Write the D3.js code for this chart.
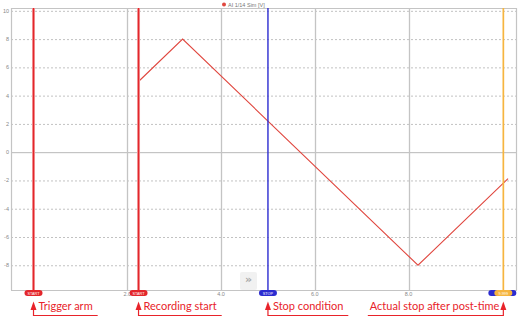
<!DOCTYPE html>
<html>
<head>
<meta charset="utf-8">
<script src="https://cdn.jsdelivr.net/npm/d3@7"></script>
<style>
  body { margin: 0; background: #fff; }
  svg { display: block; }
</style>
</head>
<body>
<div id="root"></div>
<script>
const width = 524;
const height = 325;

// signal AI 1/14 Sim [V]
const sigTime = [2.24, 3.18, 8.2, 10.12];
const sigValue = [5, 8, -8, -1.87];

// marker lines
const markerNames = ['START', 'START', 'STOP', '9.999'];
const markerTime = [0, 2.24, 5.0, 10.02];
const markerColor = ['#e3262b', '#e3262b', '#2b2bd0', '#f6b53f'];

// annotations under the chart
const noteText = ['Trigger arm', 'Recording start', 'Stop condition', 'Actual stop after post-time'];
const noteSide = ['right', 'right', 'right', 'left'];

const yTicks = [-8, -6, -4, -2, 0, 2, 4, 6, 8, 10];
const xTicks = [2, 4, 6, 8];

const plot = {left: 11, right: 516, top: 8, bottom: 290};

const svg = d3.select('#root')
  .append('svg')
  .attr('width', width).attr('height', height);

const xScale = d3.scaleLinear()
  .domain([-0.48, 10.29])
  .range([plot.left, plot.right]);

const yScale = d3.scaleLinear()
  .domain([-9.75, 10.2])
  .range([plot.bottom, plot.top]);

// horizontal grid
svg.append('g')
  .selectAll('line')
  .data(yTicks).enter()
  .append('line')
  .attr('x1', plot.left).attr('x2', plot.right)
  .attr('y1', d => yScale(d) + 0.5).attr('y2', d => yScale(d) + 0.5)
  .attr('stroke', d => d === 0 ? '#b8b8b8' : '#c2c2c2')
  .attr('stroke-width', 1)
  .attr('stroke-dasharray', d => d === 0 ? null : '2,2');

// vertical grid
svg.append('g')
  .selectAll('line')
  .data(xTicks).enter()
  .append('line')
  .attr('x1', d => Math.round(xScale(d)) + 0.5).attr('x2', d => Math.round(xScale(d)) + 0.5)
  .attr('y1', plot.top).attr('y2', plot.bottom)
  .attr('stroke', '#c4c4c4')
  .attr('stroke-width', 1.3);

// frame
svg.append('path')
  .attr('d', `M${plot.left + 0.5},${plot.bottom}V${plot.top + 0.5}H${plot.right + 0.5}V${plot.bottom}`)
  .attr('fill', 'none')
  .attr('stroke', '#c4c4c4')
  .attr('stroke-width', 1.2);
svg.append('line')
  .attr('x1', plot.left).attr('x2', plot.right + 1)
  .attr('y1', plot.bottom + 0.5).attr('y2', plot.bottom + 0.5)
  .attr('stroke', '#c4c4c4');

// y axis labels
svg.append('g')
  .selectAll('text')
  .data(yTicks).enter()
  .append('text')
  .attr('x', 9)
  .attr('y', d => yScale(d) + 2)
  .attr('text-anchor', 'end')
  .attr('font-family', 'Liberation Sans, sans-serif')
  .attr('font-size', 5.5)
  .attr('fill', '#888')
  .text(d => d);

// x axis labels
svg.append('g')
  .selectAll('text')
  .data(xTicks).enter()
  .append('text')
  .attr('x', d => xScale(d))
  .attr('y', 296)
  .attr('text-anchor', 'middle')
  .attr('font-family', 'Liberation Sans, sans-serif')
  .attr('font-size', 5.5)
  .attr('fill', '#888')
  .text(d => d.toFixed(1));

// ">>" button
const btn = svg.append('g');
btn.append('rect')
  .attr('x', 240).attr('y', 272).attr('width', 17).attr('height', 18)
  .attr('rx', 2)
  .attr('fill', '#f1f1f1');
btn.append('text')
  .attr('x', 248.5).attr('y', 283)
  .attr('text-anchor', 'middle')
  .attr('font-family', 'DejaVu Sans, sans-serif')
  .attr('font-size', 11)
  .attr('font-weight', 'bold')
  .attr('fill', '#a8a8a8')
  .text('\u00bb');

// signal
const line = d3.line()
  .x((d, i) => xScale(sigTime[i]))
  .y(d => yScale(d));
svg.append('path')
  .datum(sigValue)
  .attr('d', line)
  .attr('fill', 'none')
  .attr('stroke', '#e0473f')
  .attr('stroke-width', 1.1);

// blue pill behind the orange one at the end
svg.append('rect')
  .attr('x', xScale(markerTime[3]) - 15).attr('y', 290)
  .attr('width', 28).attr('height', 6).attr('rx', 3)
  .attr('fill', '#2b2bd0');

// marker lines
const markers = svg.append('g')
  .selectAll('g')
  .data(markerTime).enter()
  .append('g');

markers.append('line')
  .attr('x1', d => xScale(d)).attr('x2', d => xScale(d))
  .attr('y1', plot.top).attr('y2', plot.bottom)
  .attr('stroke', (d, i) => i < 2 ? '#f7c0c0' : 'none')
  .attr('stroke-width', 3);
markers.append('line')
  .attr('x1', d => xScale(d)).attr('x2', d => xScale(d))
  .attr('y1', plot.top).attr('y2', plot.bottom)
  .attr('stroke', (d, i) => markerColor[i])
  .attr('stroke-width', (d, i) => i === 2 ? 1.4 : 1.7);

markers.append('rect')
  .attr('x', (d, i) => xScale(d) - 9).attr('y', 290)
  .attr('width', 18).attr('height', 6).attr('rx', 3)
  .attr('fill', (d, i) => markerColor[i]);
markers.append('text')
  .attr('x', d => xScale(d))
  .attr('y', 294.6)
  .attr('text-anchor', 'middle')
  .attr('font-family', 'Liberation Sans, sans-serif')
  .attr('font-size', 3.8)
  .attr('fill', '#fff')
  .text((d, i) => markerNames[i]);

// legend
svg.append('circle')
  .attr('cx', 224).attr('cy', 4.5).attr('r', 2)
  .attr('fill', '#e0473f');
svg.append('text')
  .attr('x', 228).attr('y', 6.5)
  .attr('font-family', 'Liberation Sans, sans-serif')
  .attr('font-size', 5.5)
  .attr('fill', '#777')
  .text('AI 1/14 Sim [V]');

// annotations
const noteColor = '#e8232a';
const notes = svg.append('g')
  .selectAll('g')
  .data(markerTime).enter()
  .append('g');

notes.append('path')
  .attr('d', d => {
    const x = xScale(d);
    return `M${x},301.5L${x + 3},310L${x - 3},310Z`;
  })
  .attr('fill', noteColor);

notes.append('text')
  .attr('x', (d, i) => noteSide[i] === 'right' ? xScale(d) + 5 : xScale(d) - 4)
  .attr('y', 310)
  .attr('text-anchor', (d, i) => noteSide[i] === 'right' ? 'start' : 'end')
  .attr('font-family', 'Lato, sans-serif')
  .attr('font-size', 11)
  .attr('fill', noteColor)
  .text((d, i) => noteText[i]);

notes.each(function(d, i) {
  const g = d3.select(this);
  const box = g.select('text').node().getBBox();
  const x = xScale(d);
  const end = noteSide[i] === 'right' ? box.x + box.width + 5 : box.x - 2;
  g.append('path')
    .attr('d', `M${x},309V315.5H${end}`)
    .attr('fill', 'none')
    .attr('stroke', noteColor)
    .attr('stroke-width', 1.2);
});
</script>
</body>
</html>
